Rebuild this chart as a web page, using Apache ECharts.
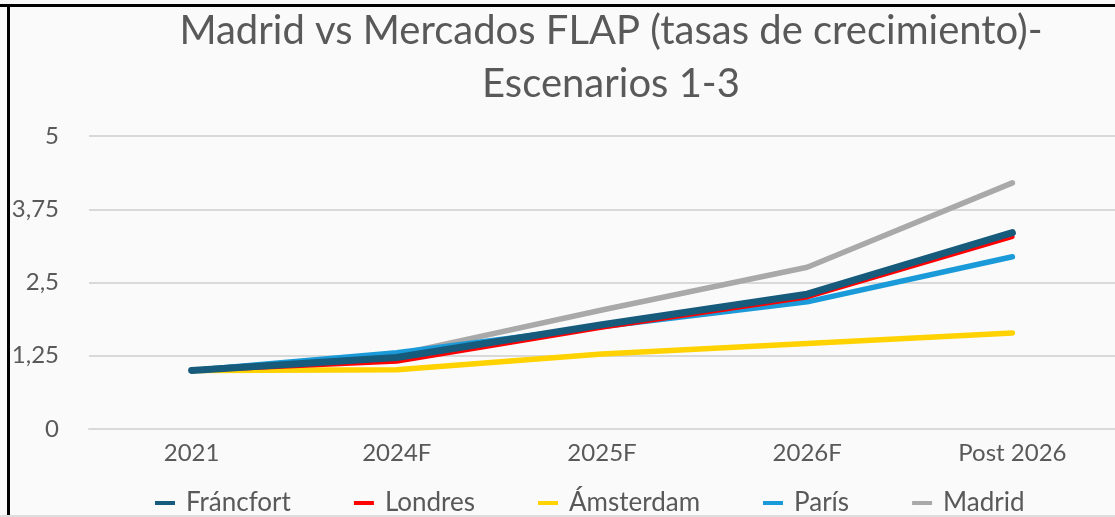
<!DOCTYPE html>
<html>
<head>
<meta charset="utf-8">
<script src="https://cdn.jsdelivr.net/npm/echarts@6/dist/echarts.min.js"></script>
<style>
html,body{margin:0;padding:0;background:#fafafa;}
#c{width:1115px;height:517px;}
</style>
</head>
<body>
<div id="c"></div>
<script>
const categories = ['2021', '2024F', '2025F', '2026F', 'Post 2026'];
const francfort = [1, 1.22, 1.78, 2.30, 3.35];
const londres   = [1, 1.15, 1.73, 2.25, 3.28];
const amsterdam = [1, 1.01, 1.28, 1.46, 1.64];
const paris     = [1, 1.30, 1.75, 2.17, 2.94];
const madrid    = [1, 1.27, 2.03, 2.76, 4.20];
const seriesNames = ['Fráncfort', 'Londres', 'Ámsterdam', 'París', 'Madrid'];
const titleText = 'Madrid vs Mercados FLAP (tasas de crecimiento)-\nEscenarios 1-3';

const colors = ['#165a7c', '#ff0000', '#ffd200', '#1a9ad8', '#a9a9a9'];
const dataSets = [francfort, londres, amsterdam, paris, madrid];
const zs = [6, 5, 3, 4, 2];
const widths = [7, 4.5, 5.5, 5.5, 5.5];

const chart = echarts.init(document.getElementById('c'));
const font = 'Lato, "Open Sans", sans-serif';
chart.setOption({
  backgroundColor: '#fafafa',
  animation: false,
  title: {
    text: titleText,
    left: 606, top: 0, textAlign: 'center',
    textStyle: {color: '#595959', fontSize: 40, fontWeight: 'normal', fontFamily: font, lineHeight: 53}
  },
  legend: {
    data: seriesNames.map((n, i) => ({name: n, icon: 'rect'})),
    left: 150, top: 485,
    itemWidth: 20, itemHeight: 4, itemGap: 63,
    textStyle: {color: '#595959', fontSize: 26, fontFamily: font, padding: [0, 0, 0, 6]}
  },
  grid: {left: 89, width: 1029, top: 136, bottom: 88, containLabel: false},
  xAxis: {
    type: 'category', data: categories, boundaryGap: true,
    axisLine: {lineStyle: {color: '#d9d9d9', width: 2}},
    axisTick: {show: false},
    axisLabel: {color: '#595959', fontSize: 24, fontFamily: font, margin: 12}
  },
  yAxis: {
    type: 'value', min: 0, max: 5, interval: 1.25,
    axisLine: {show: false}, axisTick: {show: false},
    splitLine: {lineStyle: {color: '#d9d9d9', width: 2}},
    axisLabel: {color: '#595959', fontSize: 24, fontFamily: font, margin: 30,
      formatter: v => String(v).replace('.', ',')}
  },
  series: seriesNames.map((n, i) => ({
    name: n, type: 'line', data: dataSets[i], z: zs[i],
    symbol: 'none', smooth: false,
    lineStyle: {color: colors[i], width: widths[i], cap: 'round', join: 'round'},
    itemStyle: {color: colors[i]}
  })),
  graphic: [
    {type: 'rect', shape: {x: 0, y: 4, width: 1115, height: 3}, style: {fill: '#000'}},
    {type: 'rect', shape: {x: 7, y: 4, width: 3, height: 513}, style: {fill: '#000'}},
    {type: 'rect', shape: {x: 0, y: 515, width: 1115, height: 2}, style: {fill: '#dddddd'}}
  ]
});
</script>
</body>
</html>
